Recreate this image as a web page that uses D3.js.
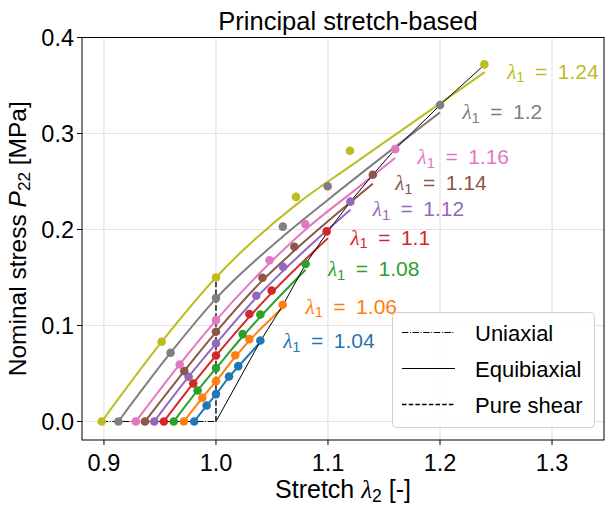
<!DOCTYPE html>
<html><head><meta charset="utf-8">
<script src="https://cdn.jsdelivr.net/npm/d3@7"></script>
<style>body{margin:0;background:#fff}</style></head>
<body><svg id="c" width="606" height="509"></svg>
<script>
const lambda1 = [1.04, 1.06, 1.08, 1.1, 1.12, 1.14, 1.16, 1.2, 1.24];
const seriesLabels = ["1.04", "1.06", "1.08", "1.1", "1.12", "1.14", "1.16", "1.2", "1.24"];
const colors = ["#1f77b4", "#ff7f0e", "#2ca02c", "#d62728", "#9467bd", "#8c564b", "#e377c2", "#7f7f7f", "#bcbd22"];

// measured data points (stretch λ2, stress P22)
const pointStretch = [
  [0.9806, 0.9917, 1.0, 1.0116, 1.0199, 1.0396],
  [0.9713, 0.9878, 1.0, 1.0172, 1.0298, 1.0596],
  [0.9623, 0.9836, 1.0, 1.0238, 1.0396, 1.08],
  [0.9535, 0.9797, 1.0, 1.0298, 1.0497, 1.0988],
  [0.9449, 0.9756, 1.0, 1.036, 1.06, 1.12],
  [0.9366, 0.9717, 1.0, 1.0415, 1.07, 1.14],
  [0.9285, 0.9676, 1.0, 1.0478, 1.0797, 1.16],
  [0.9129, 0.9595, 1.0, 1.0597, 1.0997, 1.2],
  [0.898, 0.9515, 1.0, 1.0714, 1.1196, 1.2396]
];
const pointStress = [
  [0, 0.0167, 0.0285, 0.0469, 0.0577, 0.0844],
  [0, 0.0247, 0.042, 0.069, 0.0858, 0.1216],
  [0, 0.0323, 0.0556, 0.091, 0.1115, 0.164],
  [0, 0.0396, 0.0688, 0.112, 0.1365, 0.198],
  [0, 0.0466, 0.0813, 0.131, 0.161, 0.229],
  [0, 0.0525, 0.0934, 0.1497, 0.182, 0.257],
  [0, 0.0594, 0.1056, 0.168, 0.2056, 0.2837],
  [0, 0.0716, 0.1285, 0.203, 0.245, 0.3296],
  [0, 0.083, 0.15, 0.234, 0.282, 0.372]
];
// model curves
const modelStretch = [
  [0.9806, 0.9917, 1.0, 1.0116, 1.0199, 1.04],
  [0.9713, 0.9878, 1.0, 1.0172, 1.0298, 1.06],
  [0.9623, 0.9836, 1.0, 1.0238, 1.0396, 1.08],
  [0.9535, 0.9797, 1.0, 1.0298, 1.0497, 1.1],
  [0.9449, 0.9756, 1.0, 1.036, 1.06, 1.12],
  [0.9366, 0.9717, 1.0, 1.0415, 1.07, 1.14],
  [0.9285, 0.9676, 1.0, 1.048, 1.08, 1.124, 1.16],
  [0.9129, 0.9595, 1.0, 1.06, 1.1, 1.2],
  [0.898, 0.9515, 1.0, 1.075, 1.12, 1.24]
];
const modelStress = [
  [0, 0.0165, 0.0283, 0.0462, 0.0572, 0.083],
  [0, 0.0247, 0.0418, 0.0672, 0.0842, 0.119],
  [0, 0.0323, 0.0553, 0.0885, 0.109, 0.158],
  [0, 0.0396, 0.0685, 0.109, 0.134, 0.191],
  [0, 0.0466, 0.081, 0.129, 0.157, 0.2205],
  [0, 0.0525, 0.093, 0.147, 0.178, 0.2476],
  [0, 0.0594, 0.1053, 0.165, 0.2, 0.241, 0.2745],
  [0, 0.0716, 0.128, 0.193, 0.231, 0.322],
  [0, 0.083, 0.15, 0.229, 0.266, 0.364]
];
// reference load paths
const uniaxialStretch = [0.898, 0.9129, 0.9285, 0.9366, 0.9449, 0.9535, 0.9623, 0.9713, 0.9806, 1.0];
const uniaxialStress = [0, 0, 0, 0, 0, 0, 0, 0, 0, 0];
const equibiaxialStretch = [1.0, 1.04, 1.06, 1.08, 1.1, 1.12, 1.14, 1.16, 1.2, 1.24];
const equibiaxialStress = [0, 0.0844, 0.1216, 0.164, 0.198, 0.229, 0.257, 0.2837, 0.3296, 0.372];
const shearStretch = [1.0, 1.0, 1.0, 1.0, 1.0, 1.0, 1.0, 1.0, 1.0, 1.0];
const shearStress = [0, 0.0285, 0.042, 0.0556, 0.0688, 0.0813, 0.0934, 0.1056, 0.1285, 0.15];

const xTicks = [0.9, 1.0, 1.1, 1.2, 1.3];
const yTicks = [0.0, 0.1, 0.2, 0.3, 0.4];
const legendNames = ["Uniaxial", "Equibiaxial", "Pure shear"];

const FONT = "'Liberation Sans', Arial, sans-serif";
const MATH = "'Liberation Serif', serif";
const svg = d3.select("#c");
const L = 82, R = 604, T = 37.5, B = 440;
const x = d3.scaleLinear().domain([0.8804, 1.3464]).range([L, R]);
const y = d3.scaleLinear().domain([-0.0193, 0.4]).range([B, T]);

// grid
const g = svg.append("g");
g.selectAll(".gx").data(xTicks).enter().append("line")
  .attr("x1", d => x(d)).attr("x2", d => x(d)).attr("y1", T).attr("y2", B)
  .attr("stroke", "#e3e3e3").attr("stroke-width", 1.1);
g.selectAll(".gy").data(yTicks).enter().append("line")
  .attr("y1", d => y(d)).attr("y2", d => y(d)).attr("x1", L).attr("x2", R)
  .attr("stroke", "#e3e3e3").attr("stroke-width", 1.1);

const line = d3.line().x(d => x(d[0])).y(d => y(d[1]));
const curve = d3.line().x(d => x(d[0])).y(d => y(d[1])).curve(d3.curveMonotoneX);
svg.append("clipPath").attr("id", "clp").append("rect")
  .attr("x", L).attr("y", T).attr("width", R - L).attr("height", B - T);
const plot = svg.append("g").attr("clip-path", "url(#clp)");

// model curves
lambda1.forEach((l, i) => {
  const pts = modelStretch[i].map((s, j) => [s, modelStress[i][j]]);
  plot.append("path").attr("d", curve(pts)).attr("fill", "none")
    .attr("stroke", colors[i]).attr("stroke-width", 2);
});

// reference paths
const uni = uniaxialStretch.map((s, j) => [s, uniaxialStress[j]]);
const equi = equibiaxialStretch.map((s, j) => [s, equibiaxialStress[j]]);
const shear = shearStretch.map((s, j) => [s, shearStress[j]]);
plot.append("path").attr("d", line(uni)).attr("fill", "none").attr("stroke", "#000")
  .attr("stroke-width", 1).attr("stroke-dasharray", "6.4,1.6,1,1.6");
plot.append("path").attr("d", line(equi)).attr("fill", "none").attr("stroke", "#000")
  .attr("stroke-width", 1);
plot.append("path").attr("d", line(shear)).attr("fill", "none").attr("stroke", "#222")
  .attr("stroke-width", 1.6).attr("stroke-dasharray", "5.5,2.4");

// data points
lambda1.forEach((l, i) => {
  const pts = pointStretch[i].map((s, j) => [s, pointStress[i][j]]);
  plot.selectAll(null).data(pts).enter().append("circle")
    .attr("cx", d => x(d[0])).attr("cy", d => y(d[1])).attr("r", 4.3)
    .attr("fill", colors[i]);
});

// spines
svg.append("rect").attr("x", L).attr("y", T).attr("width", R - L).attr("height", B - T)
  .attr("fill", "none").attr("stroke", "#000").attr("stroke-width", 1);

// ticks
svg.selectAll(".tx").data(xTicks).enter().append("line")
  .attr("x1", d => x(d)).attr("x2", d => x(d)).attr("y1", B).attr("y2", B + 5)
  .attr("stroke", "#000");
svg.selectAll(".ty").data(yTicks).enter().append("line")
  .attr("y1", d => y(d)).attr("y2", d => y(d)).attr("x1", L).attr("x2", L - 5)
  .attr("stroke", "#000");
svg.selectAll(".lx").data(xTicks).enter().append("text")
  .attr("x", d => x(d)).attr("y", 470.5).attr("text-anchor", "middle")
  .attr("font-family", FONT).attr("font-size", 23.5).text(d => d.toFixed(1));
svg.selectAll(".ly").data(yTicks).enter().append("text")
  .attr("x", 74).attr("y", d => y(d) + 8.5).attr("text-anchor", "end")
  .attr("font-family", FONT).attr("font-size", 23.5).text(d => d.toFixed(1));

function mathLabel(sel, parts) {
  parts.forEach(p => {
    const t = sel.append("tspan").text(p.t);
    if (p.it) t.attr("font-style", "italic").attr("font-family", p.serif ? MATH : FONT);
    if (p.sub) t.attr("font-size", "0.7em").attr("dy", "0.25em");
    if (p.up) t.attr("dy", "-0.175em");
  });
}

// title
svg.append("text").attr("x", (L + R) / 2 + 5).attr("y", 30).attr("text-anchor", "middle")
  .attr("font-family", FONT).attr("font-size", 25.5).text("Principal stretch-based");

// axis labels
const xl = svg.append("text").attr("x", (L + R) / 2).attr("y", 498).attr("text-anchor", "middle")
  .attr("font-family", FONT).attr("font-size", 25);
mathLabel(xl, [{t: "Stretch "}, {t: "λ", it: true, serif: true}, {t: "2", sub: true}, {t: " [-]", up: true}]);
const yl = svg.append("text").attr("transform", `translate(26,${(T + B) / 2}) rotate(-90)`)
  .attr("text-anchor", "middle").attr("font-family", FONT).attr("font-size", 24.5);
mathLabel(yl, [{t: "Nominal stress "}, {t: "P", it: true}, {t: "22", sub: true}, {t: " [MPa]", up: true}]);

// series labels
lambda1.forEach((l, i) => {
  const endStress = modelStress[i][modelStress[i].length - 1];
  const t = svg.append("text").attr("x", x(l + 0.02)).attr("y", y(endStress) + 6.5)
    .attr("font-family", FONT).attr("font-size", 21).attr("fill", colors[i]);
  mathLabel(t, [{t: "λ", it: true, serif: true}, {t: "1", sub: true}, {t: "\u2002=\u2002" + seriesLabels[i], up: true}]);
});

// legend
const lg = svg.append("g");
lg.append("rect").attr("x", 392.5).attr("y", 312.5).attr("width", 202).attr("height", 115)
  .attr("rx", 4).attr("fill", "#fff").attr("fill-opacity", 0.8).attr("stroke", "#d0d0d0");
const dashes = ["6.4,1.6,1,1.6", null, "4.5,2.2"];
const widths = [1, 1, 1.4];
legendNames.forEach((n, i) => {
  const yy = 332.5 + i * 36;
  const ln = lg.append("line").attr("x1", 402).attr("x2", 455).attr("y1", yy).attr("y2", yy)
    .attr("stroke", "#000").attr("stroke-width", widths[i]);
  if (dashes[i]) ln.attr("stroke-dasharray", dashes[i]);
  lg.append("text").attr("x", 475).attr("y", yy + 8).attr("font-family", FONT)
    .attr("font-size", 22).text(n);
});
</script>
</body></html>
